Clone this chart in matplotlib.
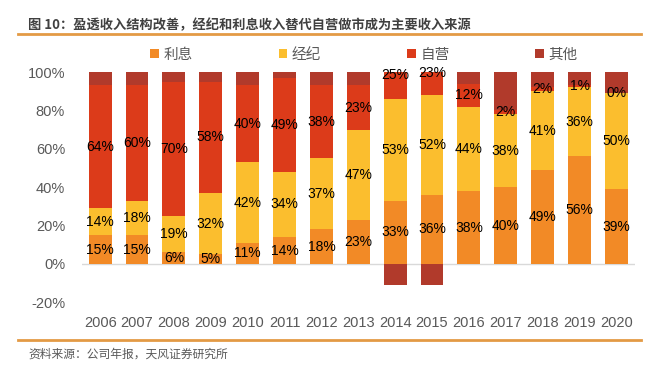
import numpy as np
import matplotlib
matplotlib.use("Agg")
import matplotlib.pyplot as plt
from matplotlib.ticker import FuncFormatter

plt.rcParams['font.family'] = ['Liberation Sans', 'Noto Sans CJK SC', 'DejaVu Sans']

years = ['2006', '2007', '2008', '2009', '2010', '2011', '2012', '2013',
         '2014', '2015', '2016', '2017', '2018', '2019', '2020']
interest = [15, 15, 6, 5, 11, 14, 18, 23, 33, 36, 38, 40, 49, 56, 39]      # 利息
brokerage = [14, 18, 19, 32, 42, 34, 37, 47, 53, 52, 44, 38, 41, 36, 50]   # 经纪
trading = [64, 60, 70, 58, 40, 49, 38, 23, 25, 23, 12, 2, 2, 1, 0]         # 自营
other = [7, 7, 5, 5, 7, 3, 7, 7, -11, -11, 6, 20, 8, 7, 11]               # 其他

series = [('利息', interest, '#F28A26'),
          ('经纪', brokerage, '#FBBE2E'),
          ('自营', trading, '#DC3B1A'),
          ('其他', other, '#B13A2B')]

fig = plt.figure(figsize=(6.5, 3.68), dpi=100)
ax = fig.add_axes([0.1257, 0.1783, 0.851, 0.626])

x = np.arange(len(years))
w = 0.62
pos_bottom = np.zeros(len(years))
neg_bottom = np.zeros(len(years))
for i, (name, vals, col) in enumerate(series):
    v = np.array(vals, dtype=float) / 100
    bottom = np.where(v >= 0, pos_bottom, neg_bottom)
    ax.bar(x, v, w, bottom=bottom, color=col, label=name, zorder=2)
    if i < 3:
        for xi, b, vi, raw in zip(x, bottom, v, vals):
            ax.text(xi, b + vi / 2, f'{raw}%', ha='center', va='center',
                    fontsize=10, color='black', zorder=3)
    pos_bottom = np.where(v >= 0, pos_bottom + v, pos_bottom)
    neg_bottom = np.where(v < 0, neg_bottom + v, neg_bottom)

ax.set_xlim(-0.5, len(years) - 0.5)
ax.set_ylim(-0.2, 1.0)
ax.set_yticks(np.arange(-0.2, 1.01, 0.2))
ax.yaxis.set_major_formatter(FuncFormatter(lambda v, p: f'{v * 100:.0f}%'))
ax.set_xticks(x)
ax.set_xticklabels(years)
ax.tick_params(axis='both', length=0, labelsize=10.5, colors='#595959')
ax.tick_params(axis='x', pad=10)
ax.tick_params(axis='y', pad=12)
for s in ax.spines.values():
    s.set_visible(False)
ax.axhline(0, color='#D9D9D9', lw=1, zorder=1)

fig.legend(loc='center', bbox_to_anchor=(0.56, 0.851), ncol=4, frameon=False,
           fontsize=10.5, handlelength=0.6, handleheight=0.6, handletextpad=0.3,
           columnspacing=5.9, labelcolor='#595959')

fig.text(0.043, 0.932, '图 10：盈透收入结构改善，经纪和利息收入替代自营做市成为主要收入来源',
         fontsize=9.5, fontweight='bold', color='#404040', va='center',
         family=['Noto Sans CJK SC', 'DejaVu Sans'])
fig.add_artist(plt.Line2D([0.028, 0.986], [0.908, 0.908], color='#E39A45', lw=2))
fig.add_artist(plt.Line2D([0.028, 0.986], [0.076, 0.076], color='#E39A45', lw=2))
fig.text(0.043, 0.038, '资料来源：公司年报，天风证券研究所', fontsize=8.5,
         color='#595959', va='center', family=['Noto Sans CJK SC', 'DejaVu Sans'])

fig.savefig('out.png', dpi=100)
